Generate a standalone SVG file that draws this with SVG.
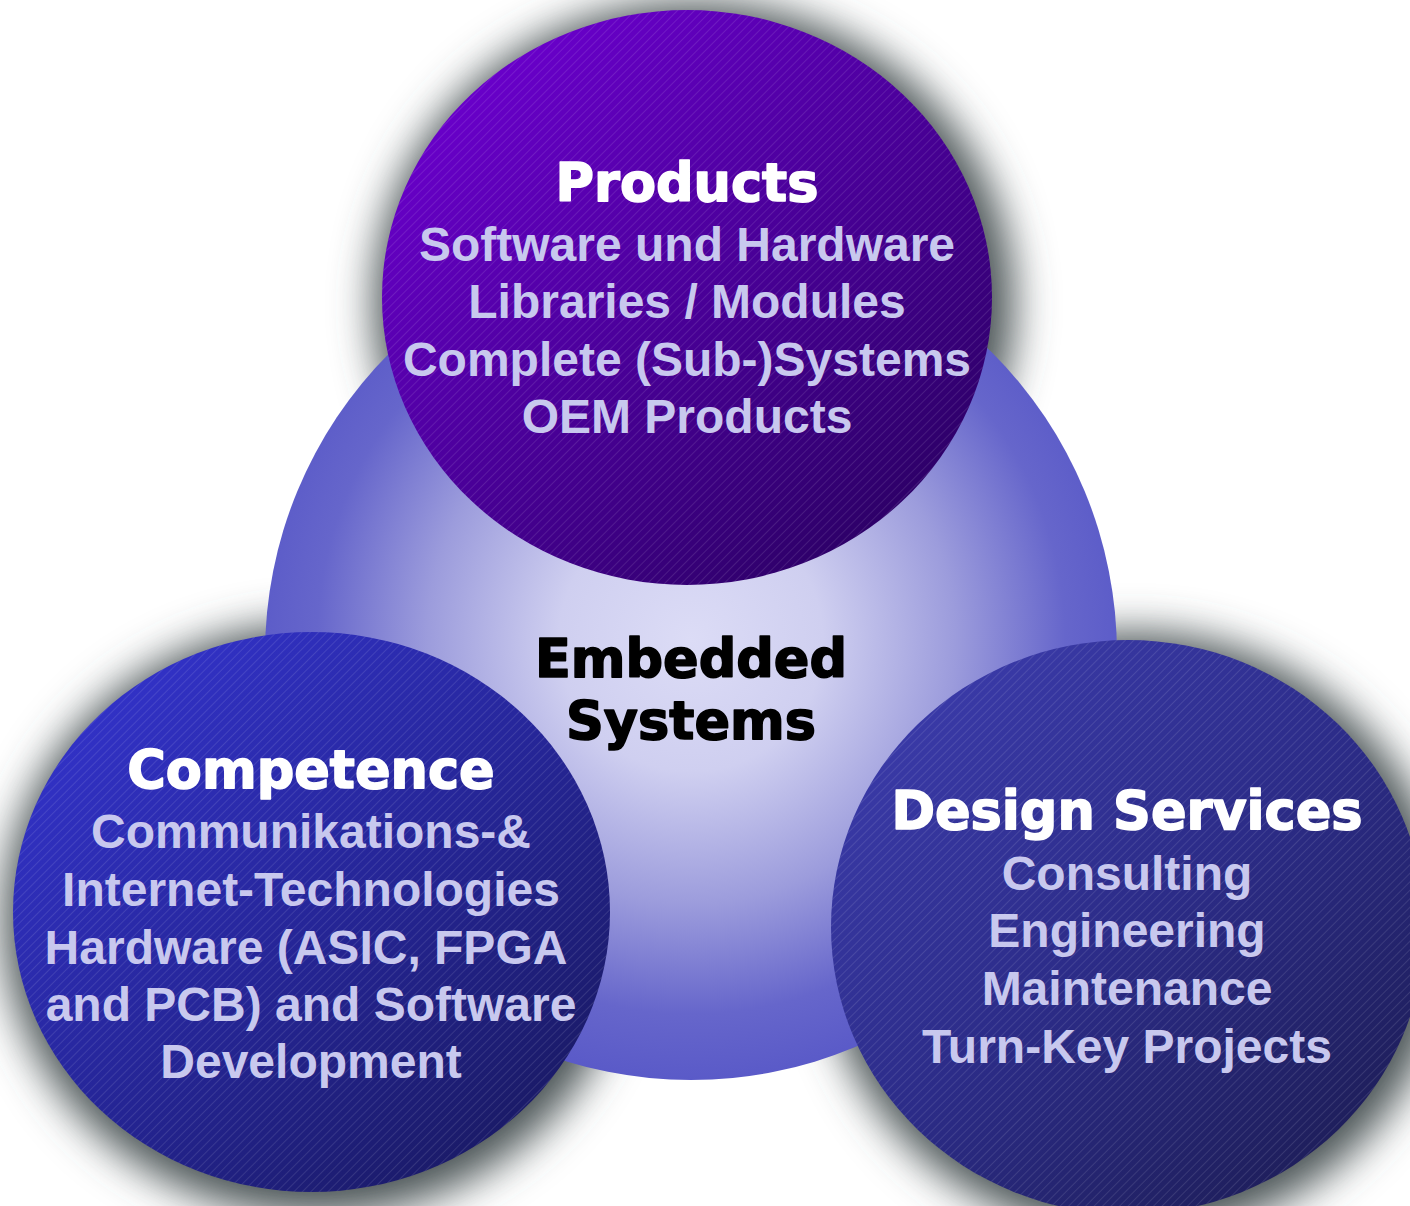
<svg xmlns="http://www.w3.org/2000/svg" width="1410" height="1206" viewBox="0 0 1410 1206">
  <defs>
    <!-- soft grey halo under the three outer discs -->
    <filter id="halo" x="-30%" y="-30%" width="160%" height="160%">
      <feGaussianBlur stdDeviation="21"/>
    </filter>
    <!-- core disc: pale centre fading to blue rim -->
    <radialGradient id="coreFill" gradientUnits="userSpaceOnUse" cx="691" cy="640" r="440">
      <stop offset="0" stop-color="#dcdcf6"/>
      <stop offset="0.3" stop-color="#cfcff0"/>
      <stop offset="0.6" stop-color="#9c9cdc"/>
      <stop offset="0.85" stop-color="#6666cb"/>
      <stop offset="1" stop-color="#5a5ac8"/>
    </radialGradient>
    <linearGradient id="productsFill" x1="0.15" y1="0.1" x2="0.85" y2="0.9">
      <stop offset="0" stop-color="#6a00cc"/>
      <stop offset="0.5" stop-color="#4a0099"/>
      <stop offset="1" stop-color="#2c0066"/>
    </linearGradient>
    <linearGradient id="competenceFill" x1="0.15" y1="0.1" x2="0.85" y2="0.9">
      <stop offset="0" stop-color="#3232c8"/>
      <stop offset="0.5" stop-color="#262699"/>
      <stop offset="1" stop-color="#1a1a66"/>
    </linearGradient>
    <linearGradient id="designFill" x1="0.15" y1="0.1" x2="0.85" y2="0.9">
      <stop offset="0" stop-color="#3a3aa8"/>
      <stop offset="0.5" stop-color="#2c2c88"/>
      <stop offset="1" stop-color="#1e1e5a"/>
    </linearGradient>
    <!-- fine diagonal pinstripe laid over the outer discs -->
    <pattern id="stripes" width="6" height="6" patternUnits="userSpaceOnUse" patternTransform="rotate(45)">
      <rect x="0" y="0" width="0.8" height="6" fill="#ffffff" fill-opacity="0.13"/>
    </pattern>
    <style>
      .head { font-family: "DejaVu Sans", "Liberation Sans", sans-serif; font-weight: bold; font-size: 52.5px; text-anchor: middle; fill: #ffffff; stroke: #ffffff; stroke-width: 1.6px; stroke-linejoin: round; }
      .core { fill: #000000; stroke: #000000; }
      .item { font-family: "Liberation Sans", Arial, sans-serif; font-weight: bold; font-size: 48px; text-anchor: middle; fill: #c8c8ee; }
    </style>
  </defs>

  <rect width="1410" height="1206" fill="#ffffff"/>

  <!-- halos sit beneath the core disc -->
  <g id="halos" fill="#4c5456" filter="url(#halo)">
    <ellipse cx="694" cy="304" rx="320" ry="302"/>
    <ellipse cx="317" cy="920" rx="314" ry="296"/>
    <ellipse cx="1134" cy="934" rx="313" ry="302"/>
  </g>

  <g id="node-embedded">
    <circle cx="691" cy="654" r="426" fill="url(#coreFill)"/>
  </g>

  <g id="node-products">
    <ellipse cx="687" cy="297.5" rx="305" ry="287.5" fill="url(#productsFill)"/>
    <ellipse cx="687" cy="297.5" rx="305" ry="287.5" fill="url(#stripes)"/>
    <text class="head" x="687" y="201">Products</text>
    <text class="item" x="687" y="261">Software und Hardware</text>
    <text class="item" x="687" y="318">Libraries / Modules</text>
    <text class="item" x="687" y="376">Complete (Sub-)Systems</text>
    <text class="item" x="687" y="433">OEM Products</text>
  </g>

  <g id="node-competence">
    <ellipse cx="311.5" cy="912" rx="298.5" ry="280" fill="url(#competenceFill)"/>
    <ellipse cx="311.5" cy="912" rx="298.5" ry="280" fill="url(#stripes)"/>
    <text class="head" x="311" y="788">Competence</text>
    <text class="item" x="311" y="848">Communikations-&amp;</text>
    <text class="item" x="311" y="906">Internet-Technologies</text>
    <text class="item" x="306" y="964">Hardware (ASIC, FPGA</text>
    <text class="item" x="311" y="1021">and PCB) and Software</text>
    <text class="item" x="311" y="1078">Development</text>
  </g>

  <g id="node-design">
    <ellipse cx="1128" cy="927" rx="297" ry="287" fill="url(#designFill)"/>
    <ellipse cx="1128" cy="927" rx="297" ry="287" fill="url(#stripes)"/>
    <text class="head" x="1127" y="829">Design Services</text>
    <text class="item" x="1127" y="890">Consulting</text>
    <text class="item" x="1127" y="947">Engineering</text>
    <text class="item" x="1127" y="1005">Maintenance</text>
    <text class="item" x="1127" y="1063">Turn-Key Projects</text>
  </g>

  <!-- core label drawn last so it stays above the lower discs -->
  <g id="label-embedded">
    <text class="head core" x="691" y="677">Embedded</text>
    <text class="head core" x="691" y="739">Systems</text>
  </g>
</svg>
